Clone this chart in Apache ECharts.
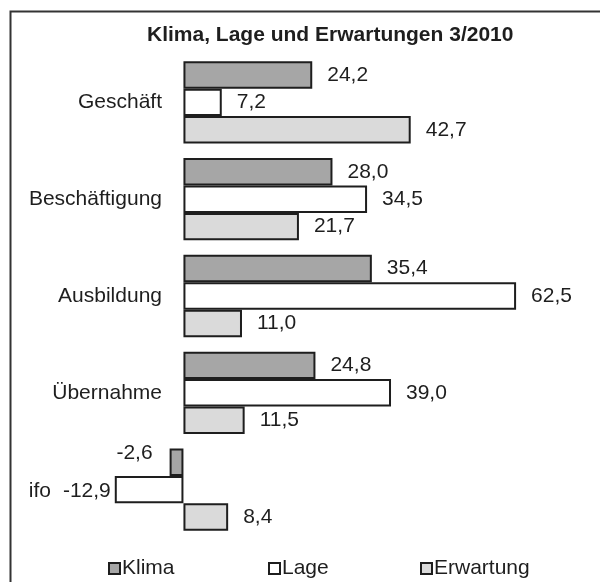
<!DOCTYPE html>
<html>
<head>
<meta charset="utf-8">
<script src="https://cdn.jsdelivr.net/npm/echarts@6/dist/echarts.min.js"></script>
<style>
  html, body { margin: 0; padding: 0; background: #fff; }
  #chart { width: 600px; height: 582px; }
</style>
</head>
<body>
<div id="chart"></div>
<script>
// categories, top to bottom
const categories = ['Geschäft', 'Beschäftigung', 'Ausbildung', 'Übernahme', 'ifo'];
const klima = [24.2, 28.0, 35.4, 24.8, -2.6];
const lage = [7.2, 34.5, 62.5, 39.0, -12.9];
const erwartung = [42.7, 21.7, 11.0, 11.5, 8.4];

const font = 'Liberation Sans, Arial, sans-serif';
const ink = '#1e1e1e';

const fmt = v => v.toFixed(1).replace('.', ',');

// negative values get their label on the left side
function toData(values, negLabel) {
    return values.map(v => v < 0 ? { value: v, label: negLabel } : v);
}

function makeSeries(name, values, fill, negLabel) {
    return {
        name: name,
        type: 'bar',
        data: toData(values, negLabel),
        barGap: '0%',
        barCategoryGap: '15%',
        itemStyle: { color: fill, borderColor: ink, borderWidth: 2 },
        label: {
            show: true,
            position: 'right',
            distance: 15,
            fontFamily: font,
            fontSize: 21,
            color: ink,
            formatter: p => fmt(p.value)
        }
    };
}

const chart = echarts.init(document.getElementById('chart'), null, { renderer: 'canvas' });

const legendBase = {
    top: 553,
    icon: 'rect',
    itemWidth: 11,
    itemHeight: 11,
    itemStyle: { borderColor: ink, borderWidth: 2 },
    textStyle: { fontFamily: font, fontSize: 21, color: ink, padding: [0, 0, 0, -3] }
};

chart.setOption({
    backgroundColor: '#fff',
    animation: false,
    title: {
        text: 'Klima, Lage und Erwartungen 3/2010',
        left: 147,
        top: 25,
        padding: 0,
        textStyle: { fontFamily: font, fontSize: 21, fontWeight: 'bold', color: ink }
    },
    graphic: [{
        type: 'rect',
        left: 8,
        top: 9,
        shape: { width: 640, height: 640 },
        style: { fill: 'none', stroke: '#333', lineWidth: 2 },
        silent: true
    }],
    legend: [
        Object.assign({ left: 103, data: ['Klima'] }, legendBase),
        Object.assign({ left: 263, data: ['Lage'] }, legendBase),
        Object.assign({ left: 415, data: ['Erwartung'] }, legendBase)
    ],
    grid: { left: 77, right: 44, top: 54, bottom: 44, containLabel: false, outerBoundsMode: 'none' },
    xAxis: {
        type: 'value',
        min: -20,
        max: 70,
        show: false
    },
    yAxis: {
        type: 'category',
        data: categories,
        inverse: true,
        // sit the category axis on the zero line (grid left is at -20)
        offset: -106,
        axisLine: { show: false },
        axisTick: { show: false },
        splitLine: { show: false },
        axisLabel: {
            margin: 21,
            fontFamily: font,
            fontSize: 21,
            color: ink,
            formatter: v => v === 'ifo' ? '{ifo|ifo}' : v,
            rich: {
                ifo: { fontFamily: font, fontSize: 21, color: ink, padding: [4, 111, 0, 0] }
            }
        }
    },
    series: [
        makeSeries('Klima', klima, '#a6a6a6', { position: 'left', distance: 17, offset: [0, -9] }),
        makeSeries('Lage', lage, '#ffffff', { position: 'left', distance: 4, offset: [0, 2] }),
        makeSeries('Erwartung', erwartung, '#dadada', { position: 'left', distance: 15 })
    ]
});
</script>
</body>
</html>
